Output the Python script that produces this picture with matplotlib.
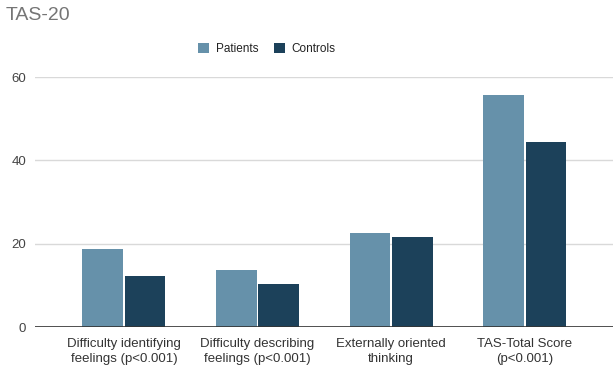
import numpy as np
import matplotlib.pyplot as plt

plt.rcParams["font.family"] = ["Liberation Sans", "DejaVu Sans"]

# TAS-20 subscale means
categories = ["Difficulty identifying\nfeelings (p<0.001)",
              "Difficulty describing\nfeelings (p<0.001)",
              "Externally oriented\nthinking",
              "TAS-Total Score\n(p<0.001)"]
patients = [18.7, 13.8, 22.6, 55.6]
controls = [12.2, 10.3, 21.5, 44.3]

PAT_COLOR = "#6691AA"
CTL_COLOR = "#1C415A"

fig = plt.figure(figsize=(6.13, 3.69), dpi=100)
ax = fig.add_axes([35 / 613, 42 / 369, 1 - 35 / 613, 250 / 369])

x = np.arange(len(categories))
w = 0.305
ax.bar(x - 0.158, patients, w, color=PAT_COLOR, label="Patients", zorder=3)
ax.bar(x + 0.158, controls, w, color=CTL_COLOR, label="Controls", zorder=3)

ax.set_xlim(-0.665, 3.66)
ax.set_ylim(0, 60)
ax.set_yticks([0, 20, 40, 60])
ax.grid(axis="y", color="#d9d9d9", linewidth=1, zorder=0)
ax.axhline(0, color="#333333", linewidth=1.2, zorder=4)
for s in ax.spines.values():
    s.set_visible(False)
ax.tick_params(axis="y", length=0, pad=6.5, labelsize=9.5, labelcolor="#444444")
ax.tick_params(axis="x", length=0, pad=8, labelsize=9.5, labelcolor="#333333")
ax.set_xticks(x)
ax.set_xticklabels(categories, linespacing=1.35)

fig.text(6 / 613, 1 - 16 / 369, "TAS-20", fontsize=14, color="#757575",
         va="center", ha="left")
ax.legend(loc="center", bbox_to_anchor=(267 / 613, 1 - 49 / 369),
          bbox_transform=fig.transFigure, ncol=2, frameon=False,
          fontsize=8.5, handlelength=0.9, handleheight=0.9,
          handletextpad=0.6, columnspacing=1.3, labelcolor="#222222")

plt.savefig("out.png", dpi=100)
